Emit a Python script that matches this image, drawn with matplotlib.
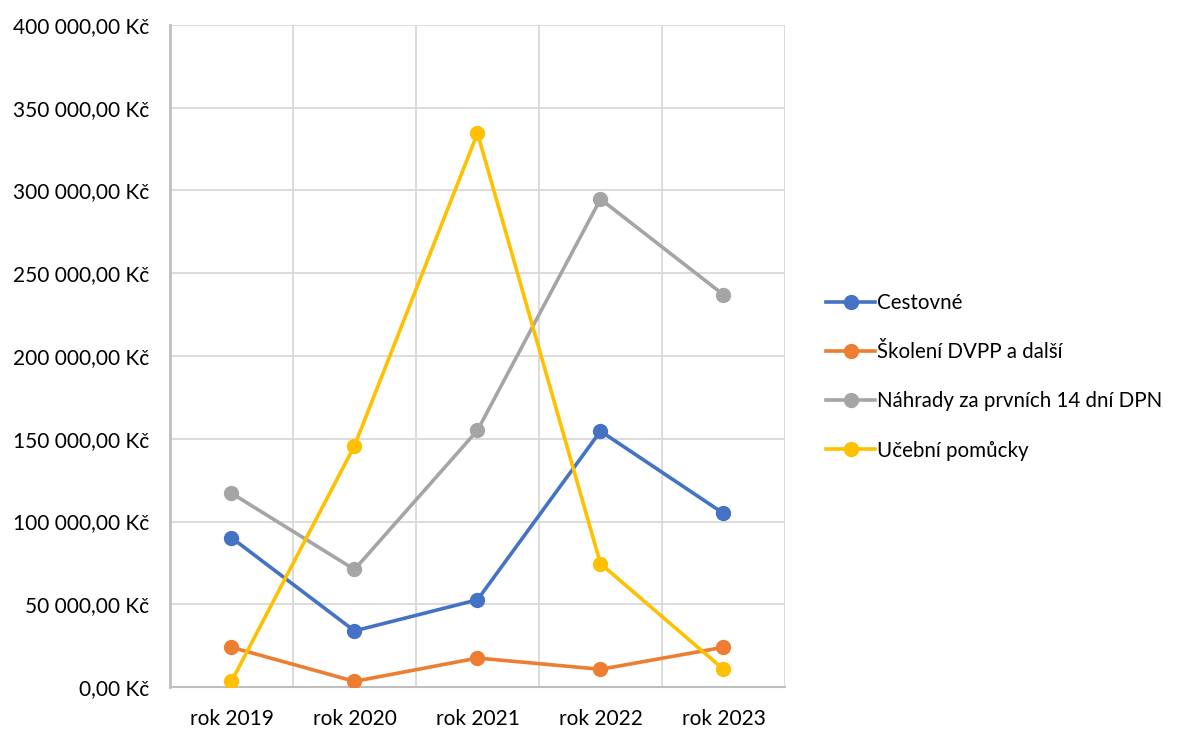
import matplotlib
matplotlib.use("Agg")
import matplotlib.pyplot as plt
from matplotlib.ticker import FuncFormatter, MultipleLocator

plt.rcParams['font.family'] = ['Lato', 'DejaVu Sans']

years = ['rok 2019', 'rok 2020', 'rok 2021', 'rok 2022', 'rok 2023']
cestovne = [90200, 33900, 52700, 154600, 104900]
skoleni = [24000, 3400, 17500, 10700, 24000]
nahrady = [117100, 71000, 155100, 294800, 237000]
pomucky = [3400, 145800, 334600, 74500, 10700]

series = [
    ('Cestovné', cestovne, '#4472C4'),
    ('Školení DVPP a další', skoleni, '#ED7D31'),
    ('Náhrady za prvních 14 dní DPN', nahrady, '#A5A5A5'),
    ('Učební pomůcky', pomucky, '#FFC000'),
]


def kc(v, pos):
    s = f'{v:,.2f}'.replace(',', ' ').replace('.', ',')
    return f'{s} Kč'


fig = plt.figure(figsize=(11.88, 7.33), dpi=100)
ax = fig.add_axes([170 / 1188, 1 - 687 / 733, 615 / 1188, 662 / 733])

x = list(range(len(years)))
for name, vals, col in series:
    ax.plot(x, vals, color=col, linewidth=2.6, marker='o', markersize=10,
            label=name, zorder=3)

ax.set_xlim(-0.5, len(years) - 0.5)
ax.set_ylim(0, 400000)
ax.yaxis.set_major_locator(MultipleLocator(50000))
ax.yaxis.set_major_formatter(FuncFormatter(kc))
ax.set_xticks(x)
ax.set_xticklabels(years)
ax.set_xticks([i - 0.5 for i in range(len(years) + 1)], minor=True)

ax.grid(True, which='major', axis='y', color='#D9D9D9', linewidth=1.3)
ax.grid(True, which='minor', axis='x', color='#D9D9D9', linewidth=1.3)
ax.set_axisbelow(True)
ax.tick_params(axis='both', which='both', length=0, labelsize=15, colors='#000000')
ax.tick_params(axis='x', pad=16)
ax.tick_params(axis='y', pad=15)
for side in ['top', 'right']:
    ax.spines[side].set_visible(False)
ax.spines['left'].set_color('#BFBFBF')
ax.spines['left'].set_linewidth(2)
ax.spines['bottom'].set_color('#BFBFBF')
ax.spines['bottom'].set_linewidth(1.5)

leg = fig.legend(loc='upper left', bbox_to_anchor=(826 / 1188, 1 - 293 / 733),
                 frameon=False, fontsize=14.8, handlelength=2.4,
                 handletextpad=0.1, labelspacing=1.42,
                 borderpad=0, borderaxespad=0)

fig.savefig('out.png', dpi=100)
